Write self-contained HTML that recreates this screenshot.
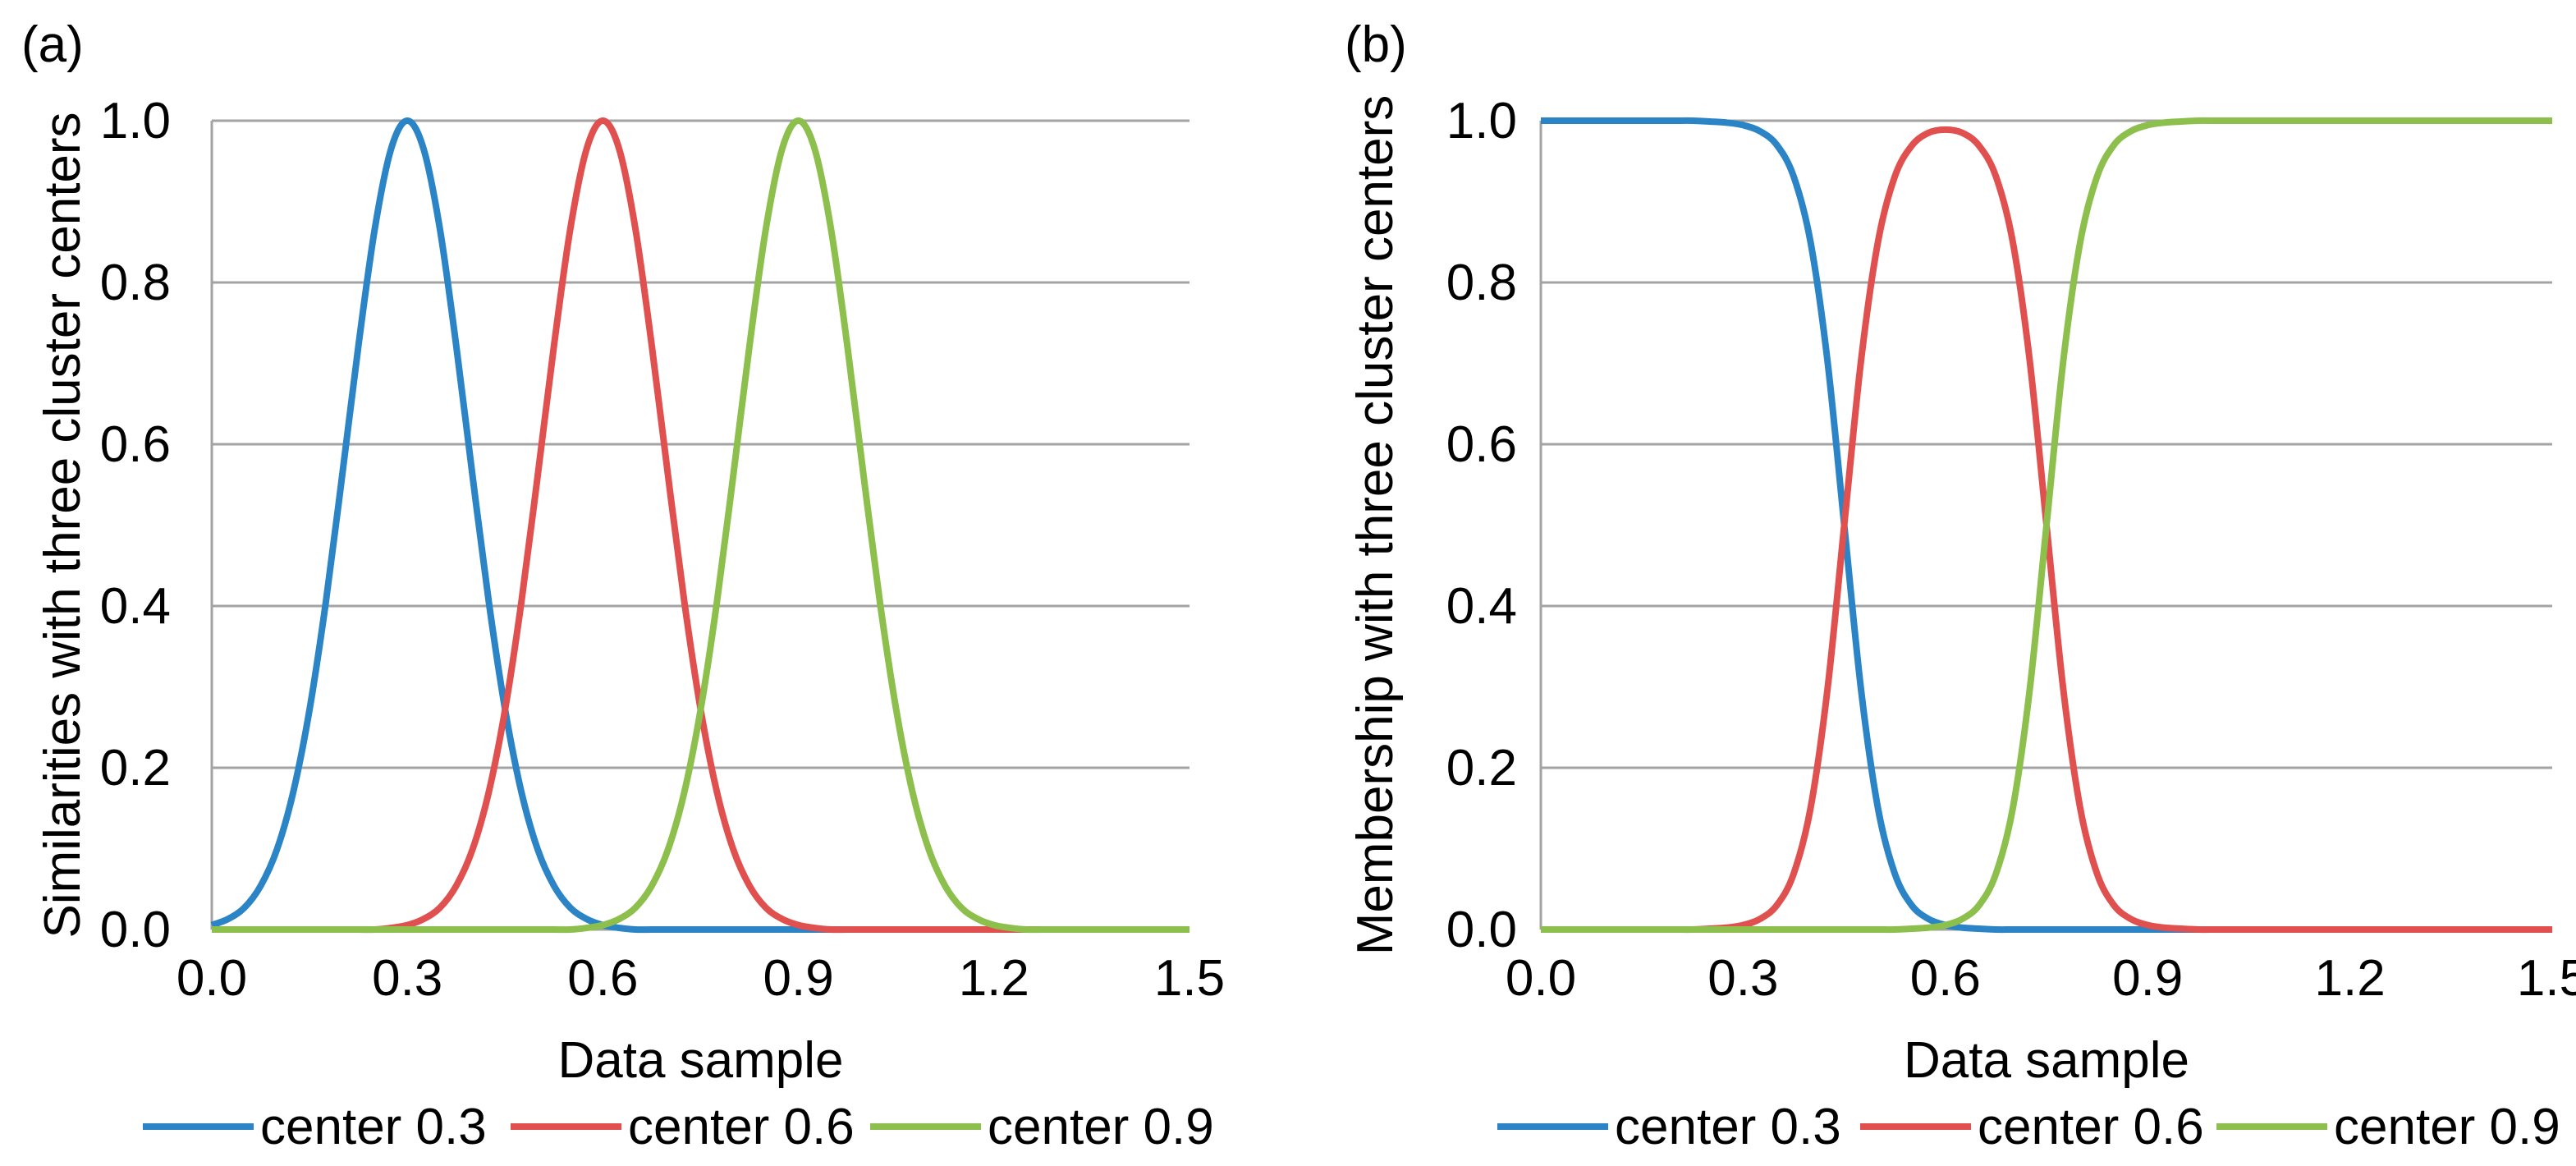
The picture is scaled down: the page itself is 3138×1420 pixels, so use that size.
<!DOCTYPE html>
<html><head><meta charset="utf-8"><style>
html,body{margin:0;padding:0;background:#fff;}
svg{display:block;font-family:"Liberation Sans",Arial,sans-serif;}
</style></head><body>
<svg id="fig" width="3138" height="1420" viewBox="0 0 3138 1420" xmlns="http://www.w3.org/2000/svg"></svg>
<script>
const xValues = [0,0.025,0.05,0.075,0.1,0.125,0.15,0.175,0.2,0.225,0.25,0.275,0.3,0.325,0.35,0.375,0.4,0.425,0.45,0.475,0.5,0.525,0.55,0.575,0.6,0.625,0.65,0.675,0.7,0.725,0.75,0.775,0.8,0.825,0.85,0.875,0.9,0.925,0.95,0.975,1,1.025,1.05,1.075,1.1,1.125,1.15,1.175,1.2,1.225,1.25,1.275,1.3,1.325,1.35,1.375,1.4,1.425,1.45,1.475,1.5];
const simCenter03 = [0.0055,0.013,0.027,0.054,0.099,0.17,0.272,0.405,0.561,0.722,0.866,0.965,1,0.965,0.866,0.722,0.561,0.405,0.272,0.17,0.099,0.054,0.027,0.013,0.0055,0.002,0,0,0,0,0,0,0,0,0,0,0,0,0,0,0,0,0,0,0,0,0,0,0,0,0,0,0,0,0,0,0,0,0,0,0];
const simCenter06 = [0,0,0,0,0,0,0,0,0,0,0,0.002,0.0055,0.013,0.027,0.054,0.099,0.17,0.272,0.405,0.561,0.722,0.866,0.965,1,0.965,0.866,0.722,0.561,0.405,0.272,0.17,0.099,0.054,0.027,0.013,0.0055,0.002,0,0,0,0,0,0,0,0,0,0,0,0,0,0,0,0,0,0,0,0,0,0,0];
const simCenter09 = [0,0,0,0,0,0,0,0,0,0,0,0,0,0,0,0,0,0,0,0,0,0,0,0.002,0.0055,0.013,0.027,0.054,0.099,0.17,0.272,0.405,0.561,0.722,0.866,0.965,1,0.965,0.866,0.722,0.561,0.405,0.272,0.17,0.099,0.054,0.027,0.013,0.0055,0.002,0,0,0,0,0,0,0,0,0,0,0];
const memCenter03 = [1,1,1,1,1,1,1,1,1,1,0.999,0.9977,0.9945,0.987,0.970,0.931,0.850,0.704,0.5,0.296,0.150,0.069,0.030,0.013,0.0055,0.0023,0.001,0,0,0,0,0,0,0,0,0,0,0,0,0,0,0,0,0,0,0,0,0,0,0,0,0,0,0,0,0,0,0,0,0,0];
const memCenter06 = [0,0,0,0,0,0,0,0,0,0,0.001,0.0023,0.0055,0.013,0.030,0.069,0.150,0.296,0.5,0.704,0.850,0.931,0.969,0.985,0.989,0.985,0.969,0.931,0.850,0.704,0.5,0.296,0.150,0.069,0.030,0.013,0.0055,0.0023,0.001,0,0,0,0,0,0,0,0,0,0,0,0,0,0,0,0,0,0,0,0,0,0];
const memCenter09 = [0,0,0,0,0,0,0,0,0,0,0,0,0,0,0,0,0,0,0,0,0,0,0.001,0.0023,0.0055,0.013,0.030,0.069,0.150,0.296,0.5,0.704,0.850,0.931,0.970,0.987,0.9945,0.9977,0.999,1,1,1,1,1,1,1,1,1,1,1,1,1,1,1,1,1,1,1,1,1,1];
const xTicks = [0,0.3,0.6,0.9,1.2,1.5];
const xTickLabels = ["0.0","0.3","0.6","0.9","1.2","1.5"];
const yTicks = [0,0.2,0.4,0.6,0.8,1.0];
const yTickLabels = ["0.0","0.2","0.4","0.6","0.8","1.0"];
const seriesNames = ["center 0.3","center 0.6","center 0.9"];

const NS = "http://www.w3.org/2000/svg";
const svg = document.getElementById('fig');
const colors = ["#2a84c6","#e0504e","#8cbf4c"];
function mk(tag, attrs, parent){const e=document.createElementNS(NS,tag);for(const k in attrs)e.setAttribute(k,attrs[k]);(parent||svg).appendChild(e);return e;}

function drawPanel(p){
  const g = mk('g',{});
  
  
  const xs = v => p.x0 + (v-0)/(1.5-0)*(p.x1-p.x0);
  const ys = v => p.yb - v*(p.yb-p.yt);
  // panel label
  const pl = mk('text',{x:p.labelX,y:75,'font-size':62,fill:'#000'},g); pl.textContent=p.label;
  
  
  // gridlines
  yTicks.forEach((t,i)=>{
    const ln = mk('line',{x1:p.x0,x2:p.x1,y1:ys(t),y2:ys(t),stroke:'#a3a3a3','stroke-width':3},g);
    
    
    const tx = mk('text',{x:p.yLabelRight,y:ys(t)+21,'font-size':62,'text-anchor':'end',fill:'#000'},g); tx.textContent=yTickLabels[i];
    
    
  });
  const ax = mk('line',{x1:p.x0,x2:p.x0,y1:p.yt,y2:p.yb,stroke:'#a3a3a3','stroke-width':3},g);
  
  
  xTicks.forEach((t,i)=>{
    const tx = mk('text',{x:xs(t),y:1212,'font-size':62,'text-anchor':'middle',fill:'#000'},g); tx.textContent=xTickLabels[i];
    
    
  });
  const xt = mk('text',{x:(p.x0+p.x1)/2,y:1312,'font-size':62,'text-anchor':'middle',fill:'#000'},g); xt.textContent='Data sample';
  
  
  const yt = mk('text',{x:0,y:0,'font-size':62,'text-anchor':'middle',fill:'#000',transform:`translate(${p.yTitleX},${(p.yt+p.yb)/2}) rotate(-90)`},g); yt.textContent=p.yTitle;
  
  
  // series
  p.series.forEach((arr,si)=>{
    const pts = xValues.map((x,i)=>[xs(x),ys(arr[i])]);
    let d = `M${pts[0][0]},${pts[0][1]}`;
    for(let i=0;i<pts.length-1;i++){
      const p0=pts[Math.max(0,i-1)],p1=pts[i],p2=pts[i+1],p3=pts[Math.min(pts.length-1,i+2)];
      const c1=[p1[0]+(p2[0]-p0[0])/6,p1[1]+(p2[1]-p0[1])/6];
      const c2=[p2[0]-(p3[0]-p1[0])/6,p2[1]-(p3[1]-p1[1])/6];
      d+=` C${c1[0]},${c1[1]} ${c2[0]},${c2[1]} ${p2[0]},${p2[1]}`;
    }
    const path = mk('path',{d:d,fill:'none',stroke:colors[si],'stroke-width':8,'stroke-linejoin':'round'},g);
    
    
  });
  // legend
  p.legend.forEach((lx,si)=>{
    const lg = mk('g',{},g);
    
    
    mk('line',{x1:lx,x2:lx+135,y1:1372,y2:1372,stroke:colors[si],'stroke-width':8},lg);
    const t = mk('text',{x:lx+143,y:1393,'font-size':62,fill:'#000'},lg); t.textContent=seriesNames[si];
  });
}
drawPanel({key:'panel-a',label:'(a)',labelX:26,x0:258,x1:1449,yt:147,yb:1132,yLabelRight:208,yTitleX:97,
  yTitle:'Similarities with three cluster centers',series:[simCenter03,simCenter06,simCenter09],legend:[174,622,1060]});
drawPanel({key:'panel-b',label:'(b)',labelX:1638,x0:1877,x1:3109,yt:147,yb:1132,yLabelRight:1848,yTitleX:1696,
  yTitle:'Membership with three cluster centers',series:[memCenter03,memCenter06,memCenter09],legend:[1824,2266,2700]});
</script>
</body></html>
